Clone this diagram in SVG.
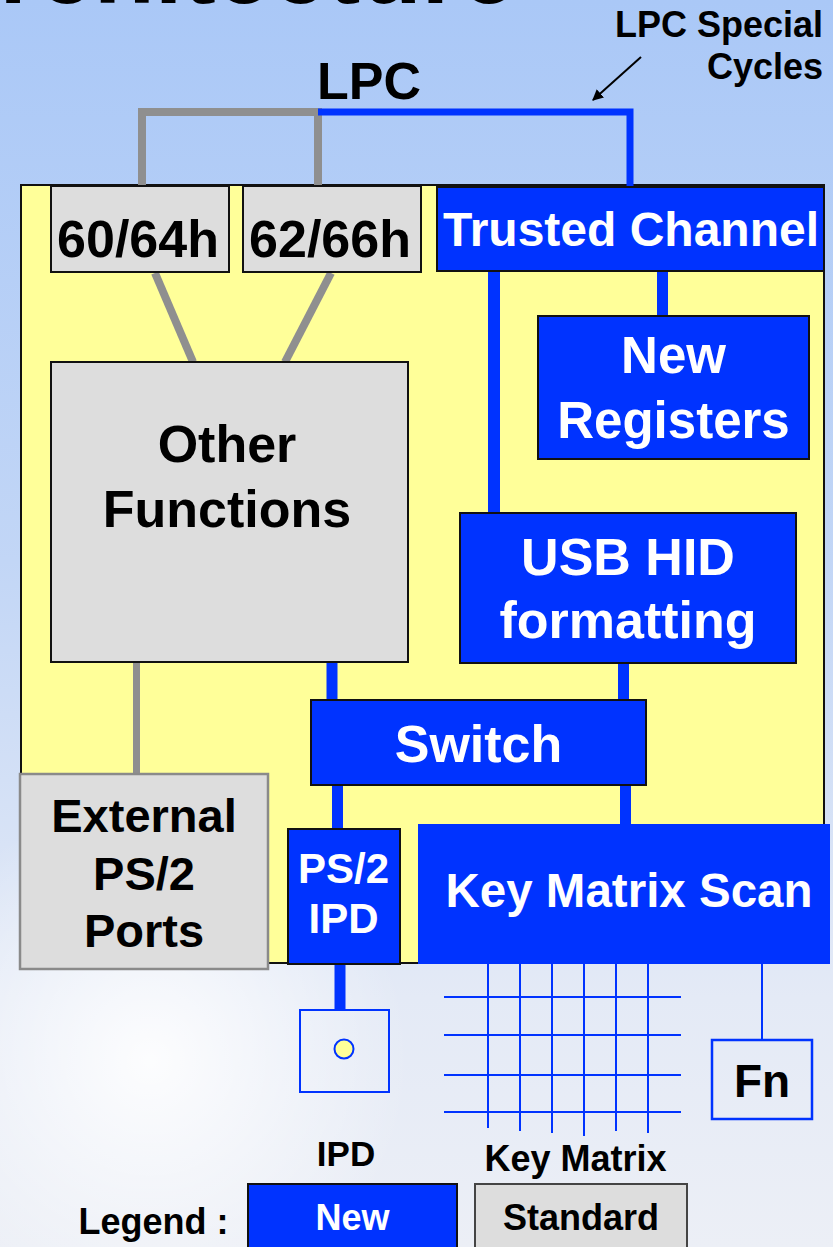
<svg xmlns="http://www.w3.org/2000/svg" width="833" height="1247" viewBox="0 0 833 1247">
  <defs>
    <linearGradient id="bg" x1="0" y1="0" x2="0" y2="1">
      <stop offset="0" stop-color="#aac8f7"/>
      <stop offset="0.45" stop-color="#c2d6f6"/>
      <stop offset="0.8" stop-color="#e4eaf6"/>
      <stop offset="1" stop-color="#eceff6"/>
    </linearGradient>
    <radialGradient id="glow" cx="150" cy="1060" r="260" gradientUnits="userSpaceOnUse">
      <stop offset="0" stop-color="#ffffff" stop-opacity="0.9"/>
      <stop offset="1" stop-color="#ffffff" stop-opacity="0"/>
    </radialGradient>
    <marker id="arrow" viewBox="0 0 10 10" refX="9" refY="5" markerWidth="11" markerHeight="11" orient="auto" markerUnits="userSpaceOnUse">
      <path d="M0,0 L10,5 L0,10 z" fill="#000"/>
    </marker>
    <style>
      text { font-family: "Liberation Sans", Arial, sans-serif; font-weight: bold; text-anchor: middle; }
      .dark { fill: #000; }
      .light { fill: #fff; }
      .std { fill: #dddddd; stroke: #111; stroke-width: 2; }
      .new { fill: #0033ff; stroke: #111; stroke-width: 2; }
      .bus-g { stroke: #8f8f8f; fill: none; }
      .bus-b { stroke: #0033ff; fill: none; }
      .thin { stroke: #0033ff; stroke-width: 2; fill: none; }
    </style>
  </defs>

  <!-- backdrop -->
  <rect width="833" height="1247" fill="url(#bg)"/>
  <rect width="833" height="1247" fill="url(#glow)"/>

  <!-- slide title, mostly above the frame -->
  <text x="516" y="3" class="dark" style="text-anchor:end" font-size="100">Architecture</text>

  <!-- controller area -->
  <rect id="controller" x="21" y="185" width="803" height="778" fill="#ffff99" stroke="#111" stroke-width="2"/>

  <!-- connectors -->
  <g id="connectors">
    <!-- LPC bus -->
    <polyline class="bus-g" stroke-width="8" points="142,186 142,112 322,112"/>
    <line class="bus-g" stroke-width="8" x1="318" y1="112" x2="318" y2="186"/>
    <polyline class="bus-b" stroke-width="7" points="318,112 630,112 630,187"/>
    <!-- LPC Special Cycles pointer -->
    <line x1="641" y1="57" x2="593" y2="100" stroke="#000" stroke-width="2" marker-end="url(#arrow)"/>
    <!-- legacy ports to other functions -->
    <line class="bus-g" stroke-width="8" x1="155" y1="273" x2="193" y2="362"/>
    <line class="bus-g" stroke-width="8" x1="331" y1="273" x2="285" y2="362"/>
    <line class="bus-g" stroke-width="7" x1="136.5" y1="663" x2="136.5" y2="775"/>
    <!-- trusted path -->
    <line class="bus-b" stroke-width="11" x1="662.5" y1="271" x2="662.5" y2="317"/>
    <line class="bus-b" stroke-width="12" x1="494" y1="271" x2="494" y2="514"/>
    <line class="bus-b" stroke-width="11" x1="623.5" y1="663" x2="623.5" y2="701"/>
    <line class="bus-b" stroke-width="11" x1="332" y1="662" x2="332" y2="701"/>
    <line class="bus-b" stroke-width="11" x1="337.5" y1="785" x2="337.5" y2="830"/>
    <line class="bus-b" stroke-width="11" x1="625.5" y1="785" x2="625.5" y2="825"/>
    <line class="bus-b" stroke-width="11" x1="340" y1="964" x2="340" y2="1011"/>
    <line class="thin" x1="762" y1="964" x2="762" y2="1040"/>
  </g>

  <g id="port-60-64h">
    <rect class="std" x="51" y="186" width="178" height="86"/>
    <text x="138" y="257" class="dark" font-size="52">60/64h</text>
  </g>

  <g id="port-62-66h">
    <rect class="std" x="243" y="186" width="178" height="86"/>
    <text x="330" y="257" class="dark" font-size="52">62/66h</text>
  </g>

  <g id="trusted-channel">
    <rect class="new" x="437" y="187" width="387" height="84"/>
    <text x="631" y="246" class="light" font-size="48">Trusted Channel</text>
  </g>

  <g id="new-registers">
    <rect class="new" x="538" y="316" width="271" height="143"/>
    <text x="673.5" y="373" class="light" font-size="51">New</text>
    <text x="673.5" y="438" class="light" font-size="51">Registers</text>
  </g>

  <g id="other-functions">
    <rect class="std" x="51" y="362" width="357" height="300"/>
    <text x="227" y="462" class="dark" font-size="52">Other</text>
    <text x="227" y="527" class="dark" font-size="52">Functions</text>
  </g>

  <g id="usb-hid">
    <rect class="new" x="460" y="513" width="336" height="150"/>
    <text x="628" y="575" class="light" font-size="52">USB HID</text>
    <text x="628" y="638" class="light" font-size="52">formatting</text>
  </g>

  <g id="switch">
    <rect class="new" x="311" y="700" width="335" height="85"/>
    <text x="478.5" y="762" class="light" font-size="52">Switch</text>
  </g>

  <g id="external-ps2">
    <rect x="20" y="774" width="248" height="195" fill="#dddddd" stroke="#8a8a8a" stroke-width="2.5"/>
    <text x="144" y="832" class="dark" font-size="47">External</text>
    <text x="144" y="890" class="dark" font-size="47">PS/2</text>
    <text x="144" y="947" class="dark" font-size="47">Ports</text>
  </g>

  <g id="ps2-ipd">
    <rect class="new" x="288" y="829" width="112" height="135"/>
    <text x="343.5" y="883" class="light" font-size="42">PS/2</text>
    <text x="343.5" y="933" class="light" font-size="42">IPD</text>
  </g>

  <g id="key-matrix-scan">
    <rect x="418" y="824" width="412" height="140" fill="#0033ff"/>
    <text x="629" y="907" class="light" font-size="47.5">Key Matrix Scan</text>
  </g>

  <g id="ipd">
    <rect class="thin" x="300" y="1010" width="89" height="82"/>
    <circle cx="344" cy="1049" r="9.5" fill="#ffff99" stroke="#0033ff" stroke-width="2"/>
    <text x="346" y="1166" class="dark" font-size="35">IPD</text>
  </g>

  <g id="key-matrix">
    <g class="thin">
      <line x1="488" y1="964" x2="488" y2="1128"/>
      <line x1="520" y1="964" x2="520" y2="1131"/>
      <line x1="552" y1="964" x2="552" y2="1133"/>
      <line x1="584" y1="964" x2="584" y2="1136"/>
      <line x1="616" y1="964" x2="616" y2="1131"/>
      <line x1="648" y1="964" x2="648" y2="1133"/>
      <line x1="444" y1="997" x2="681" y2="997"/>
      <line x1="444" y1="1035" x2="681" y2="1035"/>
      <line x1="444" y1="1075" x2="681" y2="1075"/>
      <line x1="444" y1="1112" x2="681" y2="1112"/>
    </g>
    <text x="575.5" y="1171" class="dark" font-size="36">Key Matrix</text>
  </g>

  <g id="fn-key">
    <rect x="712" y="1040" width="100" height="79" fill="none" stroke="#0033ff" stroke-width="2.5"/>
    <text x="762" y="1097" class="dark" font-size="46">Fn</text>
  </g>

  <g id="lpc-labels">
    <text x="369" y="99" class="dark" font-size="52">LPC</text>
    <text x="823" y="37" class="dark" style="text-anchor:end" font-size="36">LPC Special</text>
    <text x="823" y="79" class="dark" style="text-anchor:end" font-size="36">Cycles</text>
  </g>

  <g id="legend">
    <text x="153.5" y="1234" class="dark" font-size="36">Legend :</text>
    <rect class="new" x="248" y="1184" width="209" height="80"/>
    <text x="352.5" y="1230" class="light" font-size="36">New</text>
    <rect x="475" y="1184" width="212" height="80" fill="#dddddd" stroke="#444" stroke-width="2"/>
    <text x="581" y="1230" class="dark" font-size="36">Standard</text>
  </g>
</svg>
